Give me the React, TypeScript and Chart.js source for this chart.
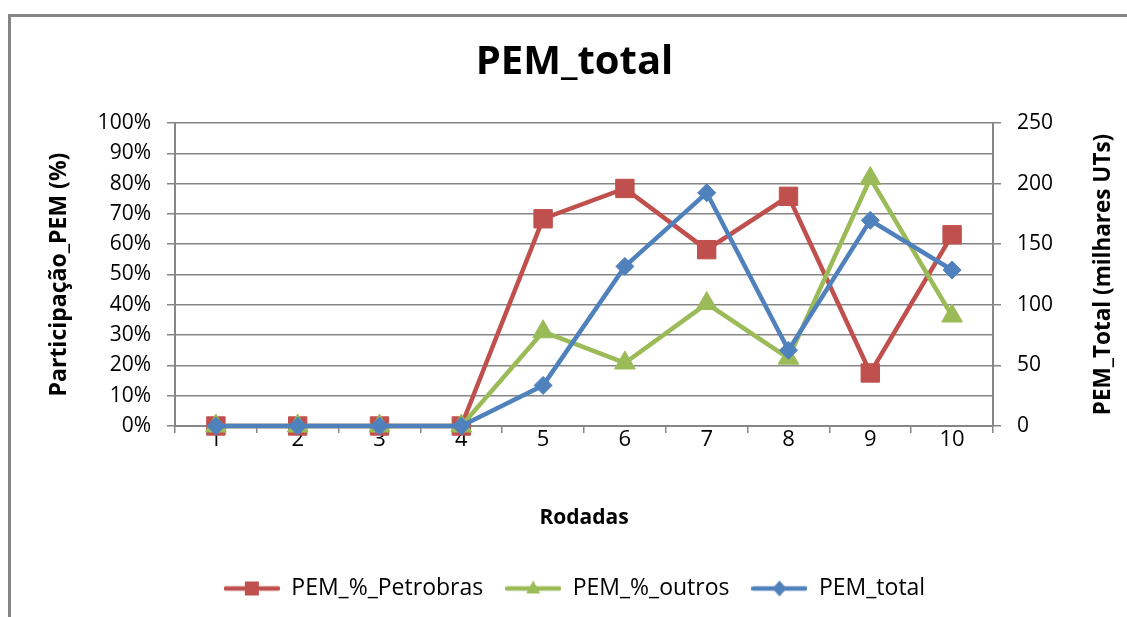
import React, { useEffect, useRef } from "react";
import { Chart, registerables } from "chart.js";

Chart.register(...registerables);

const rodadas = ["1", "2", "3", "4", "5", "6", "7", "8", "9", "10"];
const pemPetrobras = [0, 0, 0, 0, 68.4, 78.4, 58.2, 75.8, 17.5, 63.1];
const pemOutros = [0, 0, 0, 0, 31.1, 20.8, 40.4, 22.4, 81.7, 36.3];
const pemTotal = [0, 0, 0, 0, 33.5, 131.7, 192.4, 62.5, 169.7, 128.7];
const leftTicks = [0, 10, 20, 30, 40, 50, 60, 70, 80, 90, 100];
const rightTicks = [0, 50, 100, 150, 200, 250];
const rightTitle = "PEM_Total (milhares UTs)";

const RED = "#C0504D";
const GREEN = "#9BBB59";
const BLUE = "#4F81BD";
const GRID = "#868686";
const FONT = "'Open Sans', 'DejaVu Sans', sans-serif";

function legendIcon(color: string, shape: string): HTMLCanvasElement {
  const c = document.createElement("canvas");
  c.width = 56;
  c.height = 22;
  const ctx = c.getContext("2d")!;
  ctx.strokeStyle = color;
  ctx.fillStyle = color;
  ctx.lineWidth = 4.5;
  ctx.lineCap = "round";
  ctx.beginPath();
  ctx.moveTo(2, 11);
  ctx.lineTo(54, 11);
  ctx.stroke();
  ctx.beginPath();
  if (shape === "square") {
    ctx.rect(28 - 7, 11 - 7, 14, 14);
  } else if (shape === "triangle") {
    ctx.moveTo(28, 3);
    ctx.lineTo(35, 16);
    ctx.lineTo(21, 16);
    ctx.closePath();
  } else {
    ctx.moveTo(28, 3);
    ctx.lineTo(35, 11);
    ctx.lineTo(28, 19);
    ctx.lineTo(21, 11);
    ctx.closePath();
  }
  ctx.fill();
  return c;
}

const rightTitlePlugin = {
  id: "rightTitle",
  afterDraw(chart: any) {
    const { ctx, chartArea } = chart;
    ctx.save();
    ctx.translate(1104, (chartArea.top + chartArea.bottom) / 2);
    ctx.rotate(-Math.PI / 2);
    ctx.font = `bold 22.5px ${FONT}`;
    ctx.fillStyle = "#000";
    ctx.textAlign = "center";
    ctx.textBaseline = "middle";
    ctx.fillText(rightTitle, 0, 0);
    ctx.restore();
  },
};

export default function App() {
  const ref = useRef<HTMLCanvasElement | null>(null);

  useEffect(() => {
    if (!ref.current) return;
    Chart.defaults.font.family = FONT;
    Chart.defaults.color = "#000";
    const icons = [
      legendIcon(RED, "square"),
      legendIcon(GREEN, "triangle"),
      legendIcon(BLUE, "diamond"),
    ];
    const chart = new Chart(ref.current, {
      type: "line",
      plugins: [rightTitlePlugin],
      data: {
        labels: rodadas,
        datasets: [
          {
            label: "PEM_%_Petrobras",
            data: pemPetrobras,
            yAxisID: "y",
            borderColor: RED,
            backgroundColor: RED,
            borderWidth: 4.5,
            pointStyle: "rect",
            pointRadius: 13,
            pointBorderWidth: 1,
            order: 3,
            clip: false,
          },
          {
            label: "PEM_%_outros",
            data: pemOutros,
            yAxisID: "y",
            borderColor: GREEN,
            backgroundColor: GREEN,
            borderWidth: 4.5,
            pointStyle: "triangle",
            pointRadius: 12,
            pointBorderWidth: 1,
            order: 2,
            clip: false,
          },
          {
            label: "PEM_total",
            data: pemTotal,
            yAxisID: "y1",
            borderColor: BLUE,
            backgroundColor: BLUE,
            borderWidth: 4.5,
            pointStyle: "rectRot",
            pointRadius: 9,
            pointBorderWidth: 1,
            order: 1,
            clip: false,
          },
        ],
      },
      options: {
        responsive: false,
        animation: false,
        layout: { padding: { left: 22, right: 0, top: 0, bottom: 7 } },
        plugins: {
          tooltip: { enabled: false },
          title: {
            display: true,
            text: "PEM_total",
            color: "#000",
            font: { size: 40, weight: "bold", family: FONT, lineHeight: 1.2 },
            padding: { top: 39, bottom: 36 },
          },
          legend: {
            position: "bottom",
            labels: {
              usePointStyle: true,
              pointStyleWidth: 56,
              boxHeight: 22,
              padding: 22,
              color: "#000",
              font: { size: 23, family: FONT },
              sort: (a: any, b: any) => a.datasetIndex - b.datasetIndex,
              generateLabels: (ch: any) => {
                const items = Chart.defaults.plugins.legend.labels.generateLabels(ch);
                return items.map((it: any) => ({ ...it, pointStyle: icons[it.datasetIndex] }));
              },
            },
          },
        },
        scales: {
          x: {
            offset: true,
            grid: {
              offset: true,
              drawOnChartArea: false,
              drawTicks: true,
              tickLength: 7,
              color: GRID,
              lineWidth: 1.5,
            },
            border: { display: true, color: GRID, width: 2 },
            ticks: { font: { size: 22 }, padding: -6, color: "#000" },
            title: {
              display: true,
              text: "Rodadas",
              color: "#000",
              font: { size: 21, weight: "bold" },
              padding: { top: 0, bottom: 24 },
            },
            afterFit: (s: any) => {
              s.height = 129;
            },
          },
          y: {
            position: "left",
            min: 0,
            max: 100,
            afterBuildTicks: (s: any) => {
              s.ticks = leftTicks.map((v) => ({ value: v }));
            },
            ticks: {
              callback: (v: any) => v + "%",
              font: { size: 21 },
              padding: 16,
              color: "#000",
            },
            grid: { color: GRID, lineWidth: 1.5, tickLength: 8 },
            border: { display: true, color: GRID, width: 2 },
            title: {
              display: true,
              text: "Participação_PEM (%)",
              color: "#000",
              font: { size: 23, weight: "bold" },
              padding: { top: 24, bottom: 0 },
            },
            afterFit: (s: any) => {
              s.width = 153;
            },
          },
          y1: {
            position: "right",
            min: 0,
            max: 250,
            afterBuildTicks: (s: any) => {
              s.ticks = rightTicks.map((v) => ({ value: v }));
            },
            ticks: { font: { size: 21 }, padding: 16, color: "#000" },
            grid: { drawOnChartArea: false, color: GRID, lineWidth: 1.5, tickLength: 8 },
            border: { display: true, color: GRID, width: 2 },
            title: { display: false },
            afterFit: (s: any) => {
              s.width = 134;
            },
          },
        },
      },
    });
    return () => chart.destroy();
  }, []);

  return (
    <div
      style={{
        position: "absolute",
        left: 0,
        top: 0,
        width: 1127,
        height: 617,
        background: "#fff",
        overflow: "hidden",
      }}
    >
      <div
        style={{
          position: "absolute",
          left: 8,
          top: 14,
          width: 1127,
          height: 617,
          borderTop: "3px solid #868686",
          borderLeft: "3px solid #868686",
        }}
      />
      <canvas
        ref={ref}
        width={1127}
        height={617}
        style={{ position: "absolute", left: 0, top: 0, width: 1127, height: 617 }}
      />
    </div>
  );
}
